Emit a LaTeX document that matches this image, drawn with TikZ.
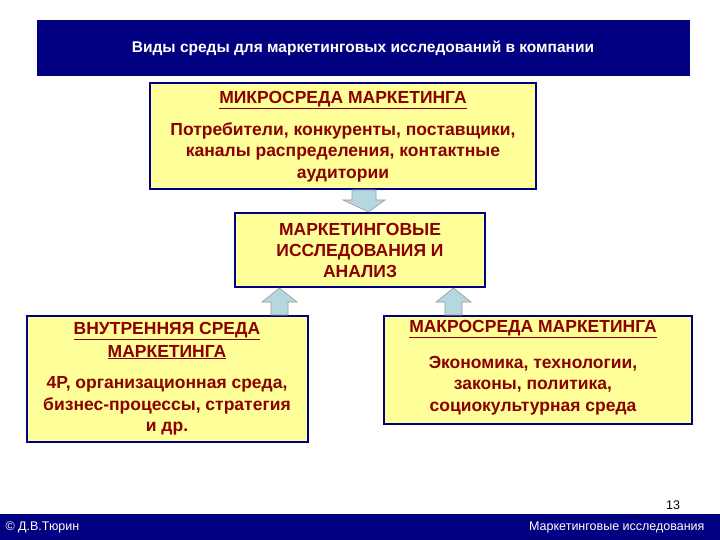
\documentclass[tikz,border=0pt]{standalone}
\usepackage{fontspec}
\setmainfont{Liberation Sans}
\begin{document}
\begin{tikzpicture}[x=1pt,y=-1pt,
 box/.style={draw=navy,line width=1.5pt,fill=boxyel},
 ttl/.style={text=darkred,font=\fontsize{17.5}{22}\selectfont\bfseries,align=center},
 bdy/.style={text=darkred,font=\fontsize{17.5}{21.5}\selectfont\bfseries,align=center},
 barr/.style={fill=arrblue,draw=gray!80,line width=0.6pt}]
\definecolor{navy}{HTML}{000080}
\definecolor{boxyel}{HTML}{FFFF99}
\definecolor{darkred}{HTML}{8B0000}
\definecolor{arrblue}{HTML}{B4D7E0}
\useasboundingbox (0,0) rectangle (720,540);
\fill[white] (0,0) rectangle (720,540);
\fill[navy] (37,20) rectangle (690,76);
\node[text=white,font=\fontsize{15.5}{18}\selectfont\bfseries] (title) at (363,48) {Виды среды для маркетинговых исследований в компании};
% boxes
\draw[box] (150,83) rectangle (536,189);
\node[ttl] (mt) at (343,100) {\underline{МИКРОСРЕДА МАРКЕТИНГА}};
\node[bdy] (mb) at (343,152) {Потребители, конкуренты, поставщики,\\каналы распределения, контактные\\аудитории};
\draw[box] (235,213) rectangle (485,287);
\node[ttl,font=\fontsize{17.5}{21}\selectfont\bfseries] (ct) at (360,250) {МАРКЕТИНГОВЫЕ\\ИССЛЕДОВАНИЯ И\\АНАЛИЗ};
\draw[box] (27,316) rectangle (308,442);
\node[ttl,font=\fontsize{17.5}{23}\selectfont\bfseries] (lt) at (167,340.5) {\underline{ВНУТРЕННЯЯ СРЕДА}\\\underline{МАРКЕТИНГА}};
\node[bdy] (lb) at (167,406) {4P, организационная среда,\\бизнес-процессы, стратегия\\и др.};
\draw[box] (384,316) rectangle (692,424);
\node[ttl] (rt) at (533,329) {\underline{МАКРОСРЕДА МАРКЕТИНГА}};
\node[bdy] (rb) at (533,385.5) {Экономика, технологии,\\законы, политика,\\социокультурная среда};
% block arrows
\draw[barr] (360,190) -- ++(-8,0) -- ++(0,10) -- ++(-9,0) -- (368.5,212) -- ++(16.5,-12) -- ++(-9,0) -- ++(0,-10) -- cycle;
\draw[barr] (271,315) -- ++(0,-13) -- ++(-9,0) -- (279.5,288) -- ++(17.5,14) -- ++(-9,0) -- ++(0,13) -- cycle;
\draw[barr] (445,315) -- ++(0,-13) -- ++(-9,0) -- (453.5,288) -- ++(17.5,14) -- ++(-9,0) -- ++(0,13) -- cycle;
% footer
\node[font=\fontsize{12.5}{14}\selectfont] (pg) at (673,505) {13};
\fill[navy] (0,513) rectangle (720,540);
\draw[white,line width=0.6pt] (0,513.5) -- (720,513.5);
\node[text=white,font=\fontsize{12.5}{14}\selectfont,anchor=west] (au) at (2,527) {© Д.В.Тюрин};
\node[text=white,font=\fontsize{12.5}{14}\selectfont,anchor=east] (ft) at (708,527) {Маркетинговые исследования};
\end{tikzpicture}
\end{document}
